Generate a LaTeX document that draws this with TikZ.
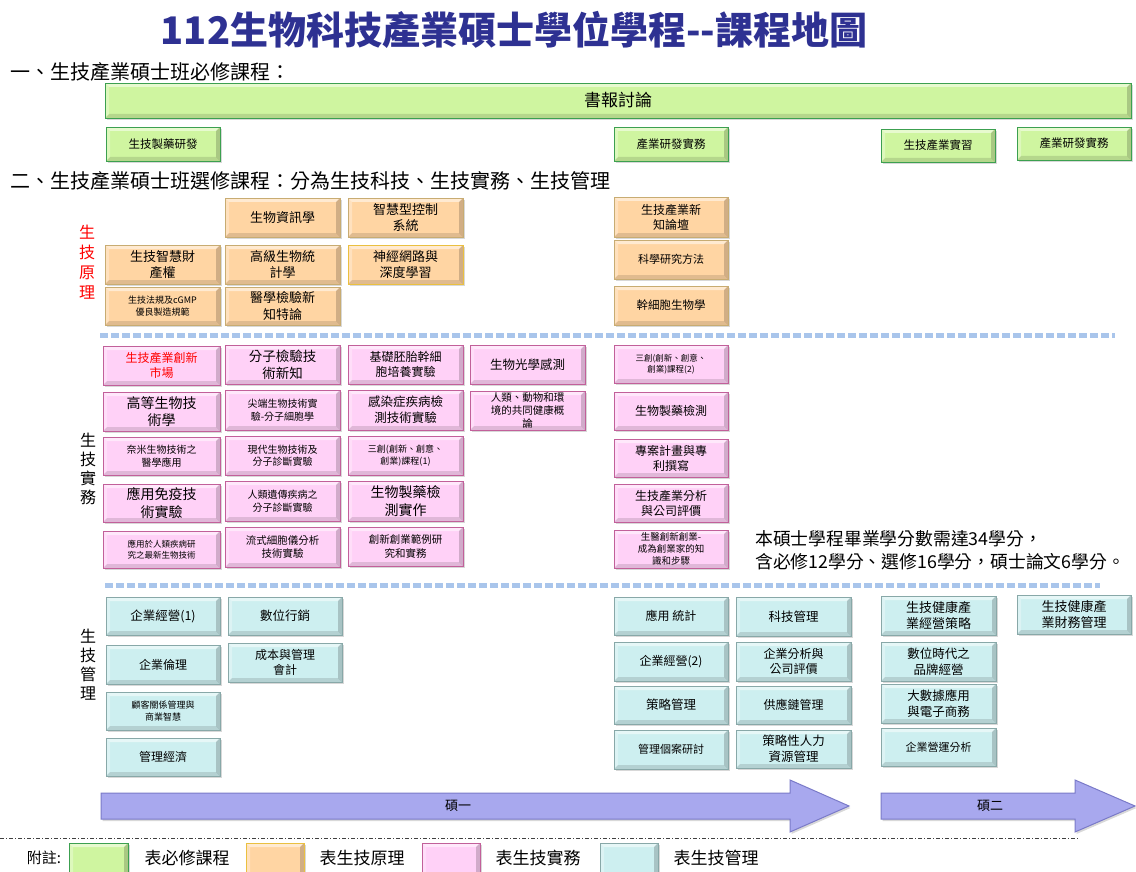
\documentclass[tikz,border=0pt]{standalone}
\usepackage{fontspec}
\setmainfont{Noto Sans CJK TC}
\usetikzlibrary{shadows}
\definecolor{greenfill}{HTML}{CFF5A0}
\definecolor{greenline}{HTML}{3CA050}
\definecolor{orangefill}{HTML}{FFD5A3}
\definecolor{orangeline}{HTML}{C8AC72}
\definecolor{orangeyel}{HTML}{EAC040}
\definecolor{pinkfill}{HTML}{FFD1F7}
\definecolor{pinkline}{HTML}{C2609A}
\definecolor{tealfill}{HTML}{CDEFF0}
\definecolor{tealline}{HTML}{88A8A8}
\definecolor{arrowfill}{HTML}{A8A8EE}
\definecolor{arrowline}{HTML}{7A7AC8}
\definecolor{sepblue}{HTML}{A9C5EB}
\definecolor{titleblue}{HTML}{2E3192}
\newcommand\fs[1]{\pgfmathsetmacro\fsl{#1*1.25}\fontsize{#1}{\fsl}\selectfont}
\newcommand\bevelpic{%
\fill[white,opacity=0.5] (path picture bounding box.north west) -- (path picture bounding box.north east) -- ([xshift=-4pt,yshift=-4pt]path picture bounding box.north east) -- ([xshift=4pt,yshift=-4pt]path picture bounding box.north west) -- cycle;
\fill[white,opacity=0.3] (path picture bounding box.north west) -- ([xshift=4pt,yshift=-4pt]path picture bounding box.north west) -- ([xshift=4pt,yshift=4pt]path picture bounding box.south west) -- (path picture bounding box.south west) -- cycle;
\fill[black,opacity=0.12] (path picture bounding box.south west) -- ([xshift=4pt,yshift=4pt]path picture bounding box.south west) -- ([xshift=-4pt,yshift=4pt]path picture bounding box.south east) -- (path picture bounding box.south east) -- cycle;
\fill[black,opacity=0.18] (path picture bounding box.north east) -- ([xshift=-4pt,yshift=-4pt]path picture bounding box.north east) -- ([xshift=-4pt,yshift=4pt]path picture bounding box.south east) -- (path picture bounding box.south east) -- cycle;
}
\newcommand\course[8]{\node[#1,minimum width=#5pt,minimum height=#6pt,font={\fs{#7}}] (#2) at ({#3+#5/2},{#4+#6/2}) {#8};}
\tikzset{
  coursebox/.style={draw,line width=0.9pt,inner sep=0pt,align=center,
    drop shadow={shadow xshift=1.5pt,shadow yshift=-2pt,opacity=0.3},
    path picture={\bevelpic}},
  greenbox/.style={coursebox,fill=greenfill,draw=greenline},
  orangebox/.style={coursebox,fill=orangefill,draw=orangeline},
  orangeybox/.style={coursebox,fill=orangefill,draw=orangeyel},
  pinkbox/.style={coursebox,fill=pinkfill,draw=pinkline},
  tealbox/.style={coursebox,fill=tealfill,draw=tealline},
  sepline/.style={line width=5pt,draw=sepblue,dash pattern=on 8pt off 3pt},
  arrowshape/.style={fill=arrowfill,draw=arrowline,line width=1pt,
    drop shadow={shadow xshift=1.5pt,shadow yshift=-2pt,opacity=0.3}},
  sidelabel/.style={align=center,inner sep=0pt},
  heading/.style={anchor=west,inner sep=0pt,font={\fontsize{20}{24}\selectfont}},
  legendtext/.style={inner sep=0pt,font={\fontsize{17}{20}\selectfont}},
}
\begin{document}
\begin{tikzpicture}[x=1pt,y=-1pt]
\useasboundingbox[fill=white] (0,0) rectangle (1136,872);
% title
\node[font={\bfseries\fontsize{38}{42}\selectfont},text=titleblue,inner sep=0pt] (title) at (514,30) {112生物科技產業碩士學位學程-{}-課程地圖};
\node[heading] (h1) at (10,72) {一、生技產業碩士班必修課程：};
\node[heading] (h2) at (10,181) {二、生技產業碩士班選修課程：分為生技科技、生技實務、生技管理};
% required
\course{greenbox}{sb}{105}{83}{1026}{35}{17}{書報討論}
\course{greenbox}{g1}{106}{127}{114}{34}{11.5}{生技製藥研發}
\course{greenbox}{g2}{614}{127}{114}{34}{11.5}{產業研發實務}
\course{greenbox}{g3}{881}{129}{114}{33}{11.5}{生技產業實習}
\course{greenbox}{g4}{1017}{127}{114}{33}{11.5}{產業研發實務}
% side labels
\node[sidelabel,text=red,font={\fontsize{16}{20}\selectfont}] (s1) at (87,262) {生\\技\\原\\理};
\node[sidelabel,font={\fontsize{16}{19}\selectfont}] (s2) at (88,469) {生\\技\\實\\務};
\node[sidelabel,font={\fontsize{16}{19}\selectfont}] (s3) at (88,665) {生\\技\\管\\理};
% principles
\course{orangebox}{o1}{225}{198}{115}{39}{13}{生物資訊學}
\course{orangebox}{o2}{348}{198}{115}{39}{13}{智慧型控制\\系統}
\course{orangebox}{o3}{105}{245}{115}{39}{13}{生技智慧財\\產權}
\course{orangebox}{o4}{225}{245}{115}{39}{13}{高級生物統\\計學}
\course{orangeybox}{o5}{348}{245}{115}{39}{13}{神經網路與\\深度學習}
\course{orangebox}{o6}{105}{287}{115}{38}{9}{生技法規及cGMP\\優良製造規範}
\course{orangebox}{o7}{225}{287}{115}{38}{13}{醫學檢驗新\\知特論}
\course{orangebox}{o8}{614}{197}{114}{40}{12}{生技產業新\\知論壇}
\course{orangebox}{o9}{614}{240}{114}{39}{11}{科學研究方法}
\course{orangebox}{o10}{614}{286}{114}{39}{11.5}{幹細胞生物學}
\draw[sepline] (100,335) -- (1115,335);
% practice
\course{pinkbox,text=red}{p1}{103}{346}{117}{39}{12}{生技產業創新\\市場}
\course{pinkbox}{p2}{225}{345}{115}{39}{13.5}{分子檢驗技\\術新知}
\course{pinkbox}{p3}{348}{345}{115}{39}{12}{基礎胚胎幹細\\胞培養實驗}
\course{pinkbox}{p4}{470}{345}{115}{39}{12.5}{生物光學感測}
\course{pinkbox}{p5}{103}{392}{117}{39}{14}{高等生物技\\術學}
\course{pinkbox}{p6}{225}{390}{115}{40}{10}{尖端生物技術實\\驗-分子細胞學}
\course{pinkbox}{p7}{348}{390}{115}{40}{12.5}{感染症疾病檢\\測技術實驗}
\course{pinkbox}{p8}{470}{391}{115}{39}{10.5}{人類、動物和環\\境的共同健康概\\論}
\course{pinkbox}{p9}{103}{437}{117}{38}{10}{奈米生物技術之\\醫學應用}
\course{pinkbox}{p10}{225}{436}{115}{39}{10}{現代生物技術及\\分子診斷實驗}
\course{pinkbox}{p11}{348}{436}{115}{39}{9}{三創(創新、創意、\\創業)課程(1)}
\course{pinkbox}{p12}{103}{484}{117}{38}{14}{應用免疫技\\術實驗}
\course{pinkbox}{p13}{225}{481}{115}{40}{10}{人類遺傳疾病之\\分子診斷實驗}
\course{pinkbox}{p14}{348}{481}{115}{40}{14}{生物製藥檢\\測實作}
\course{pinkbox}{p15}{103}{531}{117}{37}{8.5}{應用於人類疾病研\\究之最新生物技術}
\course{pinkbox}{p16}{225}{527}{115}{40}{10.5}{流式細胞儀分析\\技術實驗}
\course{pinkbox}{p17}{348}{527}{115}{39}{10.5}{創新創業範例研\\究和實務}
\course{pinkbox}{p18}{614}{345}{114}{38}{8.5}{三創(創新、創意、\\創業)課程(2)}
\course{pinkbox}{p19}{614}{392}{114}{38}{12}{生物製藥檢測}
\course{pinkbox}{p20}{614}{439}{114}{38}{12}{專案計畫與專\\利撰寫}
\course{pinkbox}{p21}{614}{484}{114}{38}{12}{生技產業分析\\與公司評價}
\course{pinkbox}{p22}{614}{530}{114}{38}{9.5}{生醫創新創業-\\成為創業家的知\\識和步驟}
\node[anchor=west,align=left,inner sep=0pt,font={\fontsize{17.8}{23}\selectfont}] (note) at (755,550) {本碩士學程畢業學分數需達34學分，\\含必修12學分、選修16學分，碩士論文6學分。};
\draw[sepline] (105,585) -- (1100,585);
% management
\course{tealbox}{t1}{106}{597}{114}{38}{12.5}{企業經營(1)}
\course{tealbox}{t2}{228}{597}{114}{38}{12.5}{數位行銷}
\course{tealbox}{t3}{106}{645}{114}{39}{12}{企業倫理}
\course{tealbox}{t4}{228}{643}{114}{39}{12}{成本與管理\\會計}
\course{tealbox}{t5}{106}{692}{114}{38}{9}{顧客關係管理與\\商業智慧}
\course{tealbox}{t6}{106}{738}{114}{38}{12}{管理經濟}
\course{tealbox}{t7}{614}{597}{114}{38}{12}{應用 統計}
\course{tealbox}{t8}{614}{642}{114}{39}{12}{企業經營(2)}
\course{tealbox}{t9}{614}{686}{114}{38}{12.5}{策略管理}
\course{tealbox}{t10}{614}{730}{114}{39}{11}{管理個案研討}
\course{tealbox}{t11}{736}{597}{115}{39}{12.5}{科技管理}
\course{tealbox}{t12}{736}{642}{115}{39}{12}{企業分析與\\公司評價}
\course{tealbox}{t13}{736}{686}{115}{38}{12}{供應鏈管理}
\course{tealbox}{t14}{736}{730}{115}{38}{12.5}{策略性人力\\資源管理}
\course{tealbox}{t15}{881}{596}{115}{39}{13}{生技健康產\\業經營策略}
\course{tealbox}{t16}{881}{642}{115}{39}{12.5}{數位時代之\\品牌經營}
\course{tealbox}{t17}{881}{684}{115}{39}{12.5}{大數據應用\\與電子商務}
\course{tealbox}{t18}{881}{728}{115}{38}{11}{企業營運分析}
\course{tealbox}{t19}{1017}{595}{114}{39}{13}{生技健康產\\業財務管理}
% year arrows
\filldraw[arrowshape] (101,793) -- (790,793) -- (790,780) -- (849,806) -- (790,832) -- (790,819) -- (101,819) -- cycle;
\filldraw[arrowshape] (881,793) -- (1075,793) -- (1075,780) -- (1135,806) -- (1075,832) -- (1075,819) -- (881,819) -- cycle;
\node[inner sep=0pt,font={\fontsize{13}{15}\selectfont}] (y1) at (458,806) {碩一};
\node[inner sep=0pt,font={\fontsize{13}{15}\selectfont}] (y2) at (990,806) {碩二};
\draw[line width=0.8pt,draw=black!75,dash pattern=on 4pt off 2pt on 1pt off 2pt] (0,838) -- (1078,838);
% legend
\node[inner sep=0pt,font={\fontsize{15}{18}\selectfont}] (lg0) at (44,858) {附註:};
\course{greenbox}{l1}{69}{843}{59}{36}{10}{}
\node[legendtext] (lt1) at (187,858) {表必修課程};
\course{orangeybox}{l2}{246}{843}{58}{36}{10}{}
\node[legendtext] (lt2) at (362,858) {表生技原理};
\course{pinkbox}{l3}{422}{843}{58}{36}{10}{}
\node[legendtext] (lt3) at (538,858) {表生技實務};
\course{tealbox}{l4}{600}{843}{58}{36}{10}{}
\node[legendtext] (lt4) at (716,858) {表生技管理};
\end{tikzpicture}
\end{document}
